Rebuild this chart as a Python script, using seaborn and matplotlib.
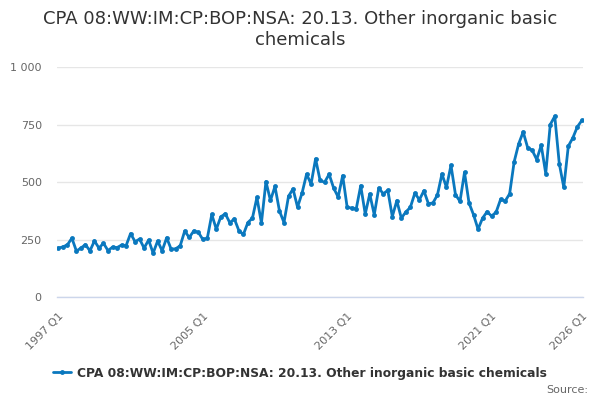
import numpy as np
import pandas as pd
import seaborn as sns
from matplotlib import pyplot as plt

sns.set_style("white")
plt.rcParams["font.family"] = ["DejaVu Sans"]

title = "CPA 08:WW:IM:CP:BOP:NSA: 20.13. Other inorganic basic\nchemicals"
series_name = "CPA 08:WW:IM:CP:BOP:NSA: 20.13. Other inorganic basic chemicals"

first_year = 1997
last_year = 2026

# quarterly values, 1997 Q1 .. 2026 Q1
values = [
    214, 219, 228, 257,   # 1997
    201, 214, 229, 202,   # 1998
    245, 214, 235, 203,   # 1999
    218, 216, 227, 224,   # 2000
    277, 242, 253, 214,   # 2001
    249, 192, 245, 202,   # 2002
    259, 209, 211, 224,   # 2003
    288, 260, 288, 283,   # 2004
    252, 256, 360, 296,   # 2005
    350, 363, 324, 341,   # 2006
    290, 273, 325, 344,   # 2007
    434, 323, 503, 421,   # 2008
    482, 375, 325, 439,   # 2009
    471, 392, 453, 535,   # 2010
    493, 602, 508, 500,   # 2011
    535, 475, 436, 529,   # 2012
    391, 388, 384, 485,   # 2013
    362, 449, 359, 475,   # 2014
    450, 465, 351, 420,   # 2015
    344, 371, 391, 453,   # 2016
    424, 463, 407, 410,   # 2017
    445, 536, 478, 574,   # 2018
    446, 417, 543, 410,   # 2019
    359, 296, 344, 372,   # 2020
    353, 370, 426, 418,   # 2021
    450, 589, 667, 719,   # 2022
    650, 639, 599, 661,   # 2023
    538, 751, 787, 581,   # 2024
    478, 657, 693, 741,   # 2025
    769,                  # 2026
]

periods = [f"{y} Q{q}" for y in range(first_year, last_year + 1) for q in range(1, 5)]
periods = periods[:len(values)]

y_ticks = [0, 250, 500, 750, 1000]
y_labels = ["0", "250", "500", "750", "1 000"]
x_label_periods = ["1997 Q1", "2005 Q1", "2013 Q1", "2021 Q1", "2026 Q1"]

df = pd.DataFrame({"idx": np.arange(len(values)), "period": periods, "value": values})

line_color = "#0a78be"

fig = plt.figure(figsize=(6, 4), dpi=100)
ax = fig.add_axes([0.095, 0.2568, 0.877, 0.575])

sns.lineplot(data=df, x="idx", y="value", ax=ax, color=line_color, linewidth=2,
             marker="o", markersize=3.5, markeredgewidth=0, label=series_name)

ax.set_ylim(0, 1000)
ax.set_xlim(-0.3, len(values) - 1 + 0.3)
ax.set_yticks(y_ticks)
ax.set_yticklabels(y_labels)
ax.yaxis.grid(True, color="#e6e6e6", linewidth=1)
ax.set_axisbelow(True)

# tick marks every two years, plus last period
tick_idx = list(range(0, len(values) - 8, 8)) + [len(values) - 1]
ax.set_xticks(tick_idx)
ax.set_xticklabels([periods[i] if periods[i] in x_label_periods else "" for i in tick_idx],
                   rotation=45, ha="right", rotation_mode="anchor")

ax.tick_params(axis="y", length=0, pad=11, labelsize=8, labelcolor="#666666")
ax.tick_params(axis="x", length=7, width=1, color="#ccd6eb", pad=3,
               labelsize=8, labelcolor="#666666", direction="out")
for side in ["top", "right", "left"]:
    ax.spines[side].set_visible(False)
ax.spines["bottom"].set_color("#ccd6eb")
ax.spines["bottom"].set_linewidth(1)
ax.set_xlabel("")
ax.set_ylabel("")

fig.text(0.5, 0.927, title, ha="center", va="center", fontsize=13, color="#333333",
         linespacing=1.2)

leg = ax.legend(loc="center", bbox_to_anchor=(0.5, 0.067), bbox_transform=fig.transFigure,
                frameon=False, prop={"weight": "bold", "size": 8.8}, handlelength=1.5,
                handletextpad=0.5)
for t in leg.get_texts():
    t.set_color("#333333")

fig.text(0.98, 0.025, "Source:", ha="right", va="center", fontsize=8, color="#666666")

fig.savefig("out.png", dpi=100)
